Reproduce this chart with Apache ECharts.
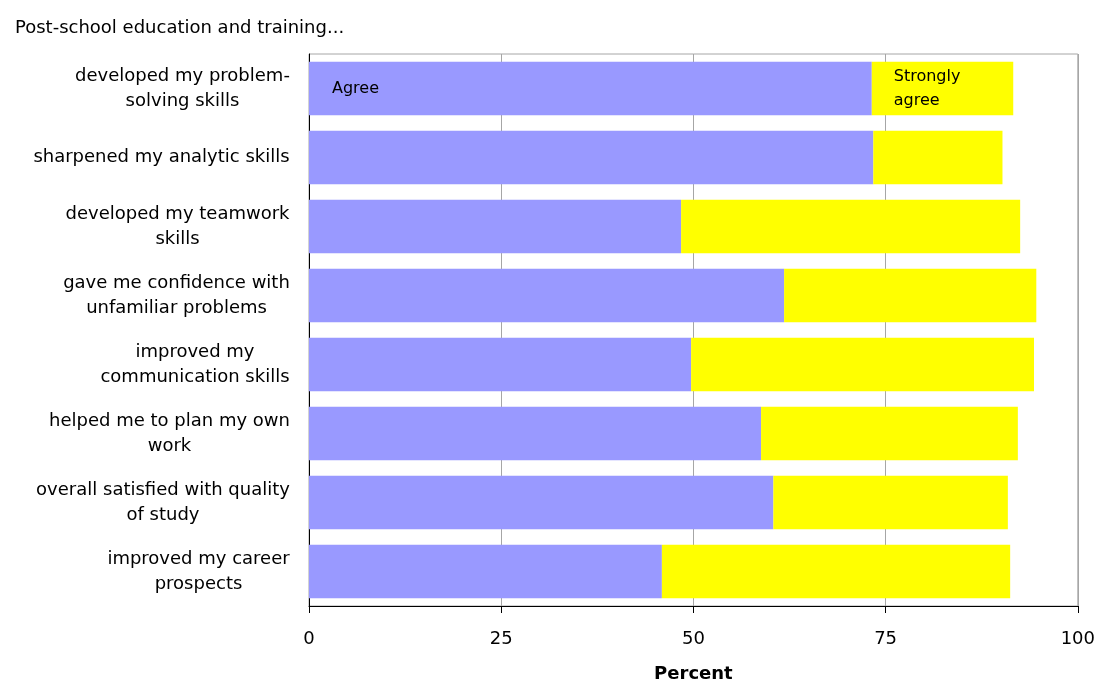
<!DOCTYPE html>
<html lang="en">
<head>
    <meta charset="UTF-8">
    <title>Post-school education and training</title>
    <script src="https://cdn.jsdelivr.net/npm/echarts@6/dist/echarts.min.js"></script>
    <style>
        html, body { margin: 0; padding: 0; background: #fff; }
        #chart { width: 1098px; height: 688px; }
    </style>
</head>
<body>
<div id="chart"></div>
<script>
    var categories = [
        'developed my problem-\nsolving skills',
        'sharpened my analytic skills',
        'developed my teamwork\nskills',
        'gave me confidence with\nunfamiliar problems',
        'improved my\ncommunication skills',
        'helped me to plan my own\nwork',
        'overall satisfied with quality\nof study',
        'improved my career\nprospects'
    ]
    var agree = [73.2, 73.4, 48.4, 61.8, 49.7, 58.8, 60.4, 45.9]
    var stronglyAgree = [18.4, 16.8, 44.1, 32.8, 44.6, 33.4, 30.5, 45.3]
    var xTicks = [0, 25, 50, 75, 100]

    var font = 'DejaVu Sans'
    var labelSize = 18
    var chart = echarts.init(document.getElementById('chart'))

    // each label block is right-aligned, its lines are centred inside it
    var ctx = document.createElement('canvas').getContext('2d')
    ctx.font = labelSize + 'px "' + font + '"'
    var rich = {}
    categories.forEach(function (c, i) {
        var w = 0
        c.split('\n').forEach(function (line) {
            w = Math.max(w, ctx.measureText(line).width)
        })
        rich['c' + i] = {
            width: Math.ceil(w), align: 'center', fontFamily: font,
            fontSize: labelSize, lineHeight: 25, color: '#000'
        }
    })

    function withLabel(values, text, dist) {
        return values.map(function (v, i) {
            if (i !== 0) return v
            return {
                value: v,
                label: {
                    show: true, position: 'insideLeft', distance: dist,
                    formatter: text, color: '#000', fontFamily: font,
                    fontSize: 16, lineHeight: 24
                }
            }
        })
    }

    chart.setOption({
        animation: false,
        title: {
            text: 'Post-school education and training...',
            left: 10, top: 14,
            textStyle: { fontFamily: font, fontSize: 18, fontWeight: 'normal', color: '#000' }
        },
        grid: { left: 309, right: 19, top: 54, bottom: 76, show: true, borderColor: '#a6a6a6', borderWidth: 1 },
        xAxis: {
            type: 'value', min: 0, max: 100, interval: 25,
            name: 'Percent', nameLocation: 'middle', nameGap: 59,
            nameTextStyle: { fontFamily: font, fontSize: 18, fontWeight: 'bold', color: '#000' },
            axisLine: { show: true, lineStyle: { color: '#000' } },
            axisTick: { show: true, length: 7, lineStyle: { color: '#000' } },
            axisLabel: {
                margin: 24, fontFamily: font, fontSize: 18, color: '#000',
                formatter: function (v) { return xTicks.indexOf(v) >= 0 ? String(v) : '' }
            },
            splitLine: { show: true, lineStyle: { color: '#a6a6a6' } }
        },
        yAxis: {
            type: 'category', data: categories, inverse: true,
            axisLine: { show: true, lineStyle: { color: '#000' } },
            axisTick: { show: false },
            axisLabel: {
                margin: 19, align: 'right', rich: rich,
                formatter: function (value, index) {
                    return value.split('\n').map(function (line) {
                        return '{c' + index + '|' + line + '}'
                    }).join('\n')
                }
            }
        },
        series: [
            {
                name: 'Agree', type: 'bar', stack: 'total', barCategoryGap: '22.6%',
                itemStyle: { color: '#9999ff' },
                data: withLabel(agree, 'Agree', 23)
            },
            {
                name: 'Strongly agree', type: 'bar', stack: 'total',
                itemStyle: { color: '#ffff00' },
                data: withLabel(stronglyAgree, 'Strongly\nagree', 22)
            }
        ]
    })
</script>
</body>
</html>
